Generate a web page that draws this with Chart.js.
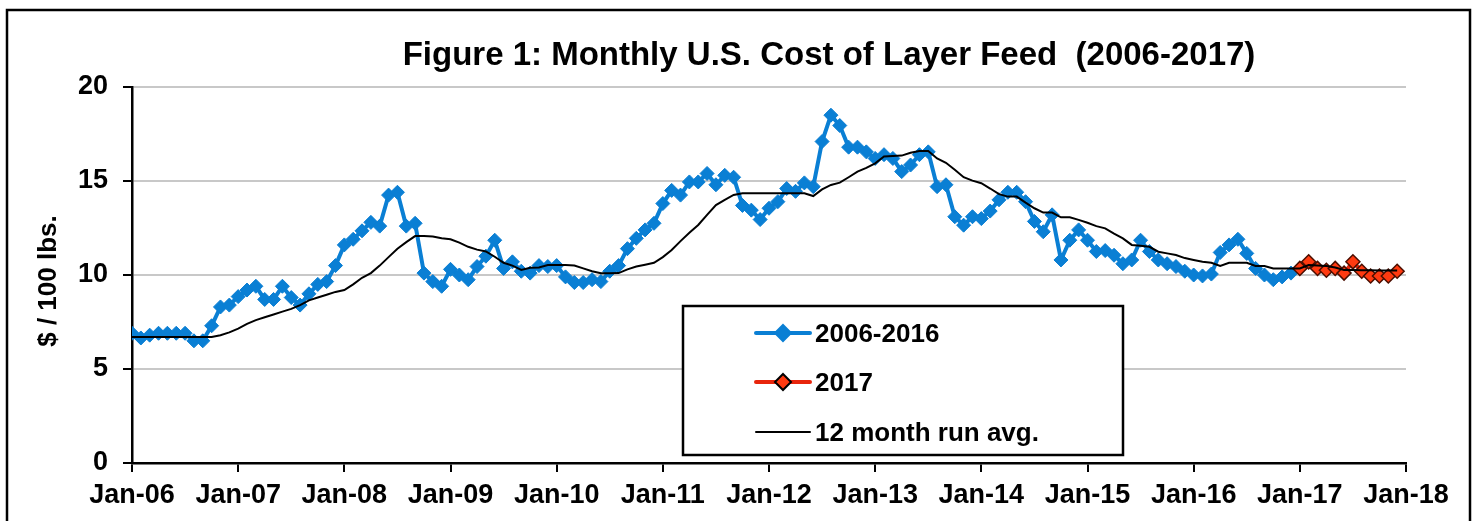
<!DOCTYPE html>
<html>
<head>
<meta charset="utf-8">
<script src="https://cdn.jsdelivr.net/npm/chart.js@4"></script>
<style>
  html, body { margin: 0; padding: 0; background: #fff; }
  canvas { display: block; }
</style>
</head>
<body>
<canvas id="c" width="1474" height="521"></canvas>
<script>
// ---- Data ----
const tickLabels = ['Jan-06','Jan-07','Jan-08','Jan-09','Jan-10','Jan-11','Jan-12','Jan-13','Jan-14','Jan-15','Jan-16','Jan-17','Jan-18'];
const yTicks = [0, 5, 10, 15, 20];

// Monthly cost, Jan-06 .. Dec-16
const feed2006to2016 = [
  6.9, 6.65, 6.8, 6.9, 6.9, 6.9, 6.9, 6.5, 6.5, 7.3, 8.3, 8.4,
  8.85, 9.2, 9.4, 8.7, 8.7, 9.4, 8.8, 8.4, 9.0, 9.5, 9.65, 10.5,
  11.6, 11.9, 12.35, 12.8, 12.6, 14.25, 14.4, 12.6, 12.75, 10.1, 9.65, 9.4,
  10.3, 10.0, 9.75, 10.45, 11.0, 11.85, 10.35, 10.7, 10.2, 10.1, 10.5, 10.45,
  10.5, 9.9, 9.6, 9.6, 9.75, 9.65, 10.2, 10.5, 11.4, 11.95, 12.4, 12.75,
  13.8, 14.5, 14.25, 14.95, 14.95, 15.4, 14.8, 15.3, 15.2, 13.7, 13.45, 12.95,
  13.55, 13.9, 14.6, 14.45, 14.9, 14.7, 17.1, 18.5, 17.95, 16.8, 16.8, 16.55,
  16.2, 16.4, 16.2, 15.5, 15.85, 16.4, 16.55, 14.7, 14.8, 13.1, 12.65, 13.1,
  13.0, 13.4, 14.0, 14.4, 14.4, 13.9, 12.85, 12.3, 13.2, 10.8, 11.85, 12.4,
  11.85, 11.25, 11.3, 11.05, 10.6, 10.8, 11.85, 11.25, 10.8, 10.6, 10.45, 10.2,
  10.0, 9.95, 10.05, 11.2, 11.6, 11.9, 11.15, 10.35, 10.0, 9.75, 9.9, 10.1
];
// Monthly cost, Jan-17 .. Dec-17
const feed2017 = [10.35, 10.7, 10.35, 10.25, 10.35, 10.1, 10.7, 10.2, 9.95, 9.95, 9.95, 10.2];
// 12 month running average, Jan-06 .. Dec-17
const runAvg = [
  6.7, 6.7, 6.7, 6.7, 6.7, 6.7, 6.7, 6.7, 6.7, 6.7, 6.8, 6.95,
  7.15, 7.4, 7.6, 7.75, 7.9, 8.05, 8.2, 8.4, 8.65, 8.8, 8.95, 9.1,
  9.2, 9.5, 9.85, 10.1, 10.5, 10.95, 11.4, 11.75, 12.07, 12.07, 12.05, 11.95,
  11.9, 11.72, 11.5, 11.35, 11.25, 10.97, 10.65, 10.5, 10.27, 10.39, 10.4, 10.53,
  10.53, 10.53, 10.5, 10.35, 10.2, 10.09, 10.09, 10.1, 10.3, 10.45, 10.55, 10.65,
  10.95, 11.33, 11.8, 12.25, 12.66, 13.2, 13.72, 14.0, 14.26, 14.35, 14.35, 14.35,
  14.35, 14.35, 14.35, 14.35, 14.35, 14.2, 14.55, 14.79, 14.91, 15.2, 15.5, 15.7,
  15.94, 16.3, 16.33, 16.35, 16.5, 16.6, 16.6, 16.2, 15.97, 15.6, 15.2, 15.02,
  14.88, 14.6, 14.3, 14.17, 14.17, 13.85, 13.55, 13.32, 13.32, 13.07, 13.07, 12.93,
  12.78, 12.6, 12.48, 12.2, 11.95, 11.6, 11.55, 11.5, 11.24, 11.15, 11.06, 10.9,
  10.8, 10.71, 10.65, 10.48, 10.65, 10.65, 10.65, 10.48, 10.48, 10.35, 10.35, 10.35,
  10.35, 10.53, 10.5, 10.48, 10.4, 10.27, 10.27, 10.25, 10.25, 10.24, 10.24, 10.24
];
const seriesNames = ['2006-2016', '2017', '12 month run avg.'];
const chartTitle = 'Figure 1: Monthly U.S. Cost of Layer Feed  (2006-2017)';
const yAxisTitle = '$ / 100 lbs.';

// ---- Styles ----
const FONT = '"Liberation Sans", Arial, Helvetica, sans-serif';
const BLUE = '#0a7fd4';
const RED_LINE = '#e8250c';
const RED_FILL = '#ff3a10';
const RED_EDGE = '#4a0e00';

const ptsBlue = feed2006to2016.map((v, i) => ({x: i, y: v}));
const ptsRed = feed2017.map((v, i) => ({x: 132 + i, y: v}));
const ptsAvg = runAvg.map((v, i) => ({x: i, y: v}));

const framePlugin = {
  id: 'frame',
  beforeDraw(chart) {
    const ctx = chart.ctx;
    ctx.save();
    ctx.fillStyle = '#fff';
    ctx.fillRect(0, 0, chart.width, chart.height);
    ctx.strokeStyle = '#000';
    ctx.lineWidth = 2.5;
    ctx.strokeRect(7, 10, 1463, 600);
    ctx.restore();
  }
};

const textPlugin = {
  id: 'texts',
  afterDraw(chart) {
    const ctx = chart.ctx;
    const a = chart.chartArea;
    ctx.save();
    // title
    ctx.fillStyle = '#000';
    ctx.font = 'bold 33px ' + FONT;
    ctx.textAlign = 'center';
    ctx.textBaseline = 'middle';
    ctx.fillText(chartTitle, (a.left + a.right) / 2 + 60, 56);
    // y axis title
    ctx.save();
    ctx.translate(49, (a.top + a.bottom) / 2 + 6);
    ctx.rotate(-Math.PI / 2);
    ctx.font = 'bold 26px ' + FONT;
    ctx.fillText(yAxisTitle, 0, 0);
    ctx.restore();

    // legend box
    const bx = 683, by = 306, bw = 440, bh = 149;
    ctx.fillStyle = '#fff';
    ctx.fillRect(bx, by, bw, bh);
    ctx.strokeStyle = '#000';
    ctx.lineWidth = 2.5;
    ctx.strokeRect(bx, by, bw, bh);

    const rows = [333, 382, 432];
    const lx0 = 756, lx1 = 810, mx = 783;
    chart.data.datasets.forEach((ds, k) => {
      const y = rows[k];
      ctx.strokeStyle = ds.borderColor;
      ctx.lineWidth = ds.borderWidth;
      ctx.lineCap = 'round';
      ctx.beginPath();
      ctx.moveTo(lx0, y);
      ctx.lineTo(lx1, y);
      ctx.stroke();
      if (ds.pointRadius > 0) {
        const r = 8;
        ctx.beginPath();
        ctx.moveTo(mx, y - r);
        ctx.lineTo(mx + r, y);
        ctx.lineTo(mx, y + r);
        ctx.lineTo(mx - r, y);
        ctx.closePath();
        ctx.fillStyle = ds.pointBackgroundColor;
        ctx.fill();
        ctx.strokeStyle = k === 1 ? '#000' : ds.pointBorderColor;
        ctx.lineWidth = 2;
        ctx.stroke();
      }
      ctx.fillStyle = '#000';
      ctx.font = 'bold 26px ' + FONT;
      ctx.textAlign = 'left';
      ctx.textBaseline = 'middle';
      ctx.fillText(ds.label, 815, y + 2);
    });
    ctx.restore();
  }
};

new Chart(document.getElementById('c'), {
  type: 'line',
  data: {
    datasets: [
      {
        label: seriesNames[0],
        data: ptsBlue,
        borderColor: BLUE,
        backgroundColor: BLUE,
        borderWidth: 4,
        pointStyle: 'rectRot',
        pointRadius: 7,
        pointBackgroundColor: BLUE,
        pointBorderColor: BLUE,
        pointBorderWidth: 1,
        tension: 0,
        order: 2
      },
      {
        label: seriesNames[1],
        data: ptsRed,
        borderColor: RED_LINE,
        backgroundColor: RED_FILL,
        borderWidth: 4,
        pointStyle: 'rectRot',
        pointRadius: 7,
        pointBackgroundColor: RED_FILL,
        pointBorderColor: RED_EDGE,
        pointBorderWidth: 1.5,
        tension: 0,
        order: 1
      },
      {
        label: seriesNames[2],
        data: ptsAvg,
        borderColor: '#000',
        backgroundColor: '#000',
        borderWidth: 2,
        pointRadius: 0,
        tension: 0,
        order: 0
      }
    ]
  },
  options: {
    responsive: false,
    animation: false,
    events: [],
    layout: { padding: { top: 87, right: 68, left: 0, bottom: 0 } },
    plugins: {
      legend: { display: false },
      title: { display: false },
      tooltip: { enabled: false }
    },
    scales: {
      x: {
        type: 'linear',
        min: 0,
        max: 144,
        afterBuildTicks(scale) {
          scale.ticks = tickLabels.map((t, i) => ({ value: i * 12 }));
        },
        afterFit(scale) { scale.height = 58; },
        ticks: {
          autoSkip: false,
          maxRotation: 0,
          padding: 7,
          color: '#000',
          font: { family: FONT, size: 27, weight: 'bold' },
          callback: (v) => tickLabels[Math.round(v / 12)]
        },
        grid: {
          drawOnChartArea: false,
          drawTicks: true,
          tickLength: 9,
          tickColor: '#000',
          lineWidth: 2
        },
        border: { color: '#000', width: 2.5 }
      },
      y: {
        min: 0,
        max: 20,
        afterBuildTicks(scale) {
          scale.ticks = yTicks.map(v => ({ value: v }));
        },
        afterFit(scale) { scale.width = 132; },
        ticks: {
          padding: 15,
          color: '#000',
          font: { family: FONT, size: 27, weight: 'bold' }
        },
        grid: {
          color: '#c8c8c8',
          lineWidth: 2,
          drawTicks: true,
          tickLength: 9,
          tickColor: '#000'
        },
        border: { color: '#000', width: 2.5 }
      }
    }
  },
  plugins: [framePlugin, textPlugin]
});
</script>
</body>
</html>
